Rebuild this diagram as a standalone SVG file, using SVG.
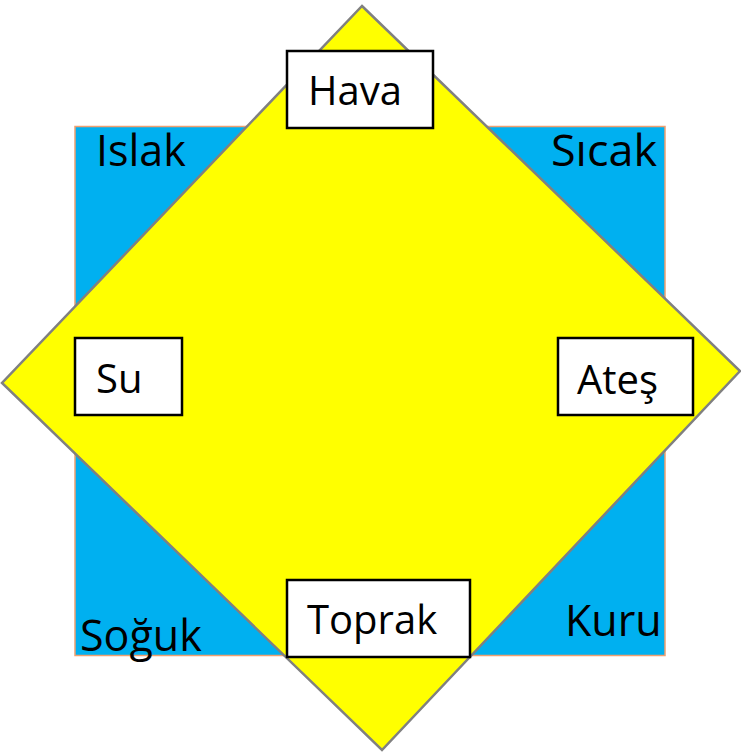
<svg xmlns="http://www.w3.org/2000/svg" width="741" height="753" viewBox="0 0 741 753">
<style>
text{font-family:"Open Sans","Noto Sans","Liberation Sans",sans-serif;font-size:40px;fill:#000}
.lbl{font-size:43px}
.box{fill:#fff;stroke:#000;stroke-width:2.5}
</style>
<rect width="741" height="753" fill="#fff"/>
<g id="square">
<rect x="75" y="126.5" width="590" height="529" fill="#00b0f0" stroke="#f0a070" stroke-width="1.5"/>
<text class="lbl" x="96" y="166">Islak</text>
<text class="lbl" x="551" y="166" textLength="106" lengthAdjust="spacingAndGlyphs">Sıcak</text>
<text class="lbl" x="80" y="651">Soğuk</text>
<text class="lbl" x="565" y="636">Kuru</text>
</g>
<g id="diamond">
<polygon points="362,6 740,371 382,750 2,383" fill="#ffff00" stroke="#808080" stroke-width="2.5"/>
</g>
<g id="connectors"></g>
<g id="hava"><rect class="box" x="287" y="51" width="146" height="77"/><text x="308" y="105">Hava</text></g>
<g id="su"><rect class="box" x="75" y="338" width="107" height="77"/><text x="96" y="393">Su</text></g>
<g id="ates"><rect class="box" x="558" y="338" width="135" height="77"/><text x="577" y="394">Ateş</text></g>
<g id="toprak"><rect class="box" x="287" y="580" width="183" height="77"/><text x="307" y="634">Toprak</text></g>
</svg>
